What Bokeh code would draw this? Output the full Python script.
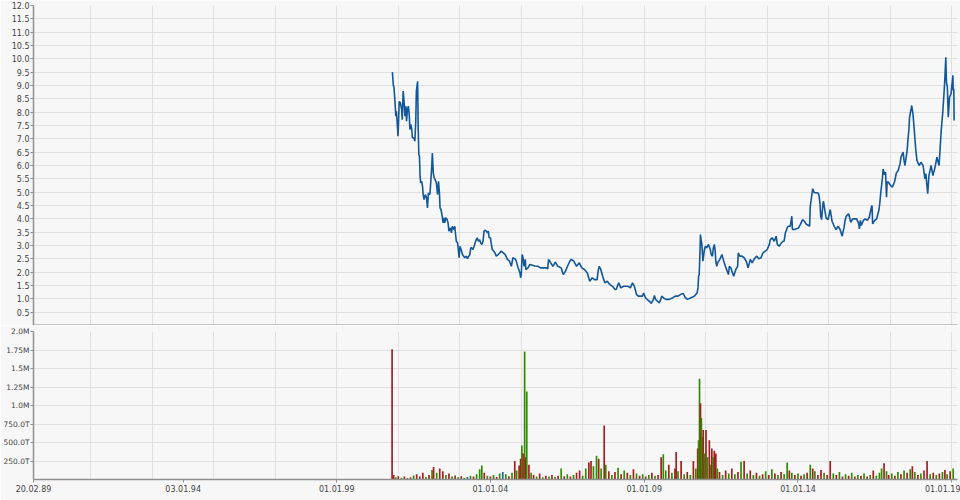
from datetime import datetime
from bokeh.plotting import figure
from bokeh.layouts import column
from bokeh.models import Range1d, FixedTicker, PrintfTickFormatter, Span
from bokeh.embed import file_html
from bokeh.resources import INLINE

# ---------------- data ----------------
price_year = [
    2000.81, 2000.84, 2000.86, 2000.89, 2000.92, 2000.94, 2000.98, 2000.99, 2001.01, 2001.03,
    2001.07, 2001.11, 2001.13, 2001.16, 2001.18, 2001.22, 2001.25, 2001.27, 2001.30, 2001.33,
    2001.36, 2001.38, 2001.41, 2001.44, 2001.46, 2001.51, 2001.54, 2001.57, 2001.59, 2001.63,
    2001.65, 2001.67, 2001.69, 2001.71, 2001.73, 2001.76, 2001.79, 2001.81, 2001.84, 2001.88,
    2001.92, 2001.95, 2001.98, 2002.03, 2002.06, 2002.09, 2002.11, 2002.14, 2002.17, 2002.20,
    2002.24, 2002.28, 2002.31, 2002.34, 2002.36, 2002.39, 2002.43, 2002.46, 2002.48, 2002.51,
    2002.55, 2002.59, 2002.62, 2002.65, 2002.70, 2002.73, 2002.76, 2002.81, 2002.84, 2002.86,
    2002.89, 2002.93, 2002.96, 2002.98, 2003.01, 2003.06, 2003.09, 2003.13, 2003.16, 2003.22,
    2003.25, 2003.28, 2003.33, 2003.36, 2003.39, 2003.43, 2003.47, 2003.50, 2003.54, 2003.57,
    2003.61, 2003.65, 2003.68, 2003.72, 2003.76, 2003.79, 2003.82, 2003.87, 2003.90, 2003.93,
    2003.96, 2004.00, 2004.03, 2004.06, 2004.10, 2004.15, 2004.19, 2004.25, 2004.30,
    2004.35, 2004.48, 2004.55, 2004.62, 2004.68, 2004.73, 2004.82, 2004.90, 2004.96, 2004.98,
    2005.00, 2005.03, 2005.06, 2005.09, 2005.13, 2005.15, 2005.22, 2005.28, 2005.36, 2005.44,
    2005.54, 2005.63, 2005.72, 2005.82, 2005.86, 2005.89, 2005.96, 2006.03, 2006.11, 2006.19,
    2006.30, 2006.37, 2006.44, 2006.52, 2006.58, 2006.63, 2006.71, 2006.80, 2006.89, 2006.97,
    2007.06, 2007.15, 2007.23, 2007.31, 2007.38, 2007.47, 2007.50, 2007.54, 2007.59, 2007.65,
    2007.72, 2007.80, 2007.88, 2007.97, 2008.05,
    2008.09, 2008.17, 2008.24, 2008.33, 2008.39, 2008.48, 2008.55, 2008.62, 2008.68, 2008.75,
    2008.81, 2008.88, 2008.94, 2008.98, 2009.04, 2009.10, 2009.17, 2009.23, 2009.30, 2009.33,
    2009.37, 2009.43, 2009.49, 2009.54, 2009.57, 2009.64, 2009.71, 2009.82, 2009.93, 2010.01,
    2010.10, 2010.19, 2010.27, 2010.34, 2010.41, 2010.52, 2010.63, 2010.72, 2010.75, 2010.77,
    2010.79, 2010.82, 2010.83, 2010.85, 2010.87, 2010.89, 2010.91, 2010.93, 2010.96, 2010.99,
    2011.03, 2011.09, 2011.15, 2011.18, 2011.22, 2011.25, 2011.28, 2011.31, 2011.33, 2011.36,
    2011.39, 2011.46, 2011.53, 2011.57, 2011.64, 2011.70, 2011.74, 2011.77,
    2011.82, 2011.91, 2011.98, 2012.04, 2012.06, 2012.11, 2012.18, 2012.25, 2012.32, 2012.38,
    2012.45, 2012.51, 2012.58, 2012.66, 2012.73, 2012.80, 2012.86, 2012.94, 2013.00, 2013.07,
    2013.10, 2013.16, 2013.23, 2013.29, 2013.33, 2013.39, 2013.46, 2013.52, 2013.55, 2013.59,
    2013.65, 2013.68, 2013.75, 2013.80, 2013.82, 2013.89, 2013.95, 2014.02, 2014.08, 2014.15,
    2014.21, 2014.28, 2014.34, 2014.38, 2014.40, 2014.44, 2014.48, 2014.53, 2014.59, 2014.66,
    2014.69, 2014.72, 2014.74, 2014.77, 2014.81, 2014.83, 2014.88, 2014.92, 2014.98, 2015.05,
    2015.11, 2015.18, 2015.24, 2015.31, 2015.37, 2015.44, 2015.47, 2015.50, 2015.53,
    2015.56, 2015.59, 2015.65, 2015.72, 2015.78, 2015.85, 2015.91, 2015.98, 2016.00, 2016.03,
    2016.06, 2016.13, 2016.19, 2016.26, 2016.32, 2016.39, 2016.41, 2016.43, 2016.50, 2016.56,
    2016.63, 2016.66, 2016.69, 2016.75, 2016.77, 2016.81, 2016.85, 2016.88, 2016.90, 2016.94,
    2017.01, 2017.07, 2017.14, 2017.20, 2017.26, 2017.32, 2017.35, 2017.42, 2017.45, 2017.48,
    2017.55, 2017.58, 2017.61, 2017.63, 2017.68, 2017.70, 2017.74, 2017.78, 2017.83, 2017.87,
    2017.94, 2018.00, 2018.07, 2018.13, 2018.16, 2018.20, 2018.22, 2018.26, 2018.33, 2018.39,
    2018.46, 2018.52, 2018.59, 2018.62, 2018.66, 2018.71, 2018.75, 2018.77, 2018.79, 2018.81,
    2018.82, 2018.83, 2018.86, 2018.88, 2018.89, 2018.91, 2018.93, 2018.98, 2019.00, 2019.02,
    2019.04, 2019.05, 2019.07, 2019.08,
]
price_value = [
    9.50, 9.00, 8.95, 8.47, 7.85, 8.03, 7.35, 7.10, 7.60, 8.40,
    8.35, 8.10, 7.72, 8.79, 8.55, 7.85, 8.22, 7.66, 8.10, 8.22,
    7.85, 7.35, 7.54, 7.35, 7.04, 7.04, 6.91, 7.66, 8.79, 9.16,
    7.35, 6.41, 6.35, 5.60, 5.35, 5.41, 5.22, 4.91, 4.72, 4.91,
    4.79, 4.41, 4.97, 4.91, 5.41, 5.97, 6.47, 5.72, 5.54, 5.47,
    5.35, 4.91, 5.41, 4.97, 4.41, 4.35, 4.10, 3.85, 4.04, 3.85,
    4.04, 3.97, 3.85, 3.54, 3.66, 3.47, 3.72, 3.60, 3.72, 3.47,
    3.16, 3.10, 2.79, 2.54, 2.97, 2.79, 2.66, 2.60, 2.54, 2.60,
    2.50, 2.57, 2.66, 2.91, 2.91, 2.85, 2.97, 3.10, 3.22, 3.29,
    3.16, 3.22, 3.10, 3.04, 3.16, 3.54, 3.57, 3.54, 3.47, 3.54,
    3.29, 3.29, 3.04, 2.85, 2.79, 2.72, 2.60, 2.66, 2.72,
    2.79, 2.66, 2.48, 2.41, 2.22, 2.54, 2.48, 2.16, 1.97, 1.79,
    1.91, 2.66, 2.54, 2.22, 2.48, 2.10, 2.16, 2.29, 2.26, 2.23,
    2.22, 2.16, 2.16, 2.16, 2.12, 2.48, 2.35, 2.22, 2.38, 2.22,
    2.16, 1.91, 2.04, 2.26, 2.41, 2.48, 2.41, 2.22, 2.35, 2.16,
    2.10, 1.97, 1.66, 1.79, 1.72, 1.72, 2.04, 2.22, 2.10, 1.85,
    1.60, 1.66, 1.54, 1.47, 1.35,
    1.35, 1.60, 1.41, 1.47, 1.47, 1.47, 1.41, 1.60, 1.47, 1.16,
    1.10, 1.10, 1.10, 1.22, 1.04, 0.97, 0.91, 0.83, 0.98, 1.13,
    0.98, 0.91, 0.85, 0.98, 1.10, 1.02, 0.98, 0.98, 1.04, 1.10,
    1.10, 1.17, 1.20, 1.04, 0.98, 1.04, 1.10, 1.22, 1.41, 1.85,
    1.91, 2.97, 3.41, 3.22, 3.10, 2.79, 2.41, 2.60, 2.85, 2.97,
    2.91, 3.04, 2.85, 2.66, 2.60, 2.91, 3.04, 2.79, 2.41, 2.22,
    2.35, 2.48, 2.66, 2.48, 2.22, 2.04, 1.91, 2.22,
    2.16, 1.85, 2.10, 2.22, 2.72, 2.60, 2.60, 2.54, 2.41, 2.16,
    2.48, 2.35, 2.50, 2.60, 2.50, 2.54, 2.72, 2.79, 2.85, 3.04,
    3.22, 3.29, 3.16, 3.35, 3.04, 2.97, 3.10, 3.16, 3.16, 3.47,
    3.66, 3.72, 3.72, 4.10, 3.60, 3.60, 3.63, 3.66, 3.79, 3.97,
    3.91, 3.79, 3.76, 3.72, 4.47, 4.79, 5.13, 4.98, 4.98, 4.97,
    4.85, 4.53, 4.10, 3.97, 4.53, 4.66, 4.28, 4.03, 3.97, 4.35,
    3.91, 3.72, 3.60, 3.72, 3.60, 3.35, 3.54, 3.66, 3.91,
    4.06, 4.12, 4.19, 3.87, 4.00, 4.00, 4.00, 3.81, 3.62, 3.94,
    3.75, 3.94, 4.00, 3.94, 4.06, 4.44, 4.50, 3.81, 3.94, 4.00,
    4.31, 4.56, 4.94, 5.56, 5.87, 5.66, 5.75, 4.81, 5.38, 5.38,
    5.25, 5.19, 5.38, 5.72, 5.81, 6.06, 6.31, 6.50, 6.19, 6.00,
    6.56, 7.00, 7.38, 7.81, 8.12, 8.25, 7.94, 7.38, 6.62, 6.19,
    6.00, 6.12, 6.00, 5.50, 5.69, 5.19, 4.94, 5.62, 6.00, 5.62,
    5.94, 6.31, 6.00, 6.56, 7.31, 7.99, 8.69, 9.06, 9.56, 10.06,
    9.56, 9.13, 8.94, 8.19, 7.81, 8.19, 8.56, 8.69, 8.94, 9.13,
    9.38, 8.81, 8.88, 7.69,
]

vol_year = [
    2000.80, 2000.85, 2000.92, 2001.00, 2001.10, 2001.20, 2001.30, 2001.40, 2001.50, 2001.60,
    2001.70, 2001.80, 2001.90, 2002.00, 2002.10, 2002.15, 2002.25, 2002.35, 2002.45, 2002.55,
    2002.65, 2002.75, 2002.85, 2002.95, 2003.05, 2003.15, 2003.25, 2003.35, 2003.45, 2003.55,
    2003.65, 2003.72, 2003.80, 2003.90, 2004.00, 2004.10, 2004.20, 2004.30, 2004.40, 2004.50,
    2004.60, 2004.70, 2004.79, 2004.85, 2004.93, 2004.98, 2005.02, 2005.06, 2005.11, 2005.14,
    2005.18, 2005.25, 2005.32, 2005.40, 2005.50, 2005.60, 2005.70, 2005.80, 2005.90, 2006.00,
    2006.10, 2006.20, 2006.30, 2006.40, 2006.50, 2006.60, 2006.70, 2006.80, 2006.90, 2007.00,
    2007.10, 2007.20, 2007.27, 2007.35, 2007.45, 2007.52, 2007.60, 2007.70, 2007.75, 2007.85,
    2007.95, 2008.05, 2008.15, 2008.25, 2008.35, 2008.45, 2008.55, 2008.65, 2008.75, 2008.85,
    2008.95, 2009.05, 2009.15, 2009.25, 2009.35, 2009.45, 2009.55, 2009.62, 2009.70, 2009.80,
    2009.90, 2010.00, 2010.04, 2010.10, 2010.20, 2010.30, 2010.40, 2010.50, 2010.60, 2010.68,
    2010.74, 2010.77, 2010.80, 2010.83, 2010.86, 2010.89, 2010.92, 2010.96, 2011.01, 2011.06,
    2011.12, 2011.17, 2011.20, 2011.24, 2011.28, 2011.33, 2011.38, 2011.45, 2011.55, 2011.65,
    2011.75, 2011.85, 2011.95, 2012.05, 2012.15, 2012.25, 2012.35, 2012.45, 2012.55, 2012.65,
    2012.75, 2012.85, 2012.95, 2013.05, 2013.15, 2013.25, 2013.35, 2013.45, 2013.55, 2013.65,
    2013.72, 2013.80, 2013.90, 2014.00, 2014.10, 2014.20, 2014.30, 2014.40, 2014.48, 2014.55,
    2014.65, 2014.75, 2014.85, 2014.95, 2015.05, 2015.15, 2015.25, 2015.35, 2015.45, 2015.55,
    2015.65, 2015.75, 2015.85, 2015.95, 2016.05, 2016.15, 2016.25, 2016.35, 2016.45, 2016.55,
    2016.65, 2016.72, 2016.80, 2016.88, 2016.95, 2017.05, 2017.15, 2017.25, 2017.35, 2017.45,
    2017.55, 2017.65, 2017.72, 2017.80, 2017.90, 2018.00, 2018.10, 2018.20, 2018.30, 2018.40,
    2018.50, 2018.60, 2018.70, 2018.78, 2018.85, 2018.95, 2019.05,
]
vol_k = [
    1760, 60, 30, 45, 25, 40, 20, 30, 55, 70,
    40, 90, 35, 60, 130, 170, 90, 150, 110, 60,
    80, 40, 55, 30, 45, 25, 35, 50, 40, 70,
    140, 190, 90, 50, 40, 60, 35, 80, 100, 70,
    45, 90, 250, 120, 190, 280, 460, 350, 1730, 300,
    1190, 200, 90, 60, 40, 80, 30, 50, 40, 60,
    35, 50, 150, 45, 70, 40, 60, 90, 120, 50,
    150, 230, 250, 180, 320, 280, 150, 730, 200, 110,
    60, 100, 160, 70, 120, 90, 60, 140, 80, 50,
    70, 40, 60, 90, 50, 60, 300, 340, 120, 200,
    90, 150, 370, 110, 250, 70, 100, 60, 250, 150,
    420, 530, 1360, 1030, 830, 570, 670, 350, 670, 300,
    530, 200, 420, 300, 390, 350, 150, 100, 60, 120,
    80, 150, 70, 100, 240, 250, 80, 120, 60, 90,
    50, 70, 110, 60, 140, 80, 60, 100, 70, 230,
    120, 90, 60, 80, 50, 70, 90, 200, 150, 110,
    60, 130, 90, 60, 250, 80, 60, 100, 40, 70,
    50, 90, 40, 60, 50, 80, 40, 60, 120, 50,
    90, 150, 220, 110, 60, 80, 50, 100, 70, 120,
    90, 140, 180, 100, 60, 80, 120, 250, 70, 90,
    60, 80, 100, 130, 70, 110, 150,
]
vol_dir = [
    "r", "r", "g", "r", "g", "r", "g", "r", "g", "r",
    "r", "r", "g", "r", "g", "r", "g", "r", "r", "g",
    "r", "g", "r", "g", "r", "g", "b", "g", "r", "g",
    "g", "g", "r", "g", "r", "g", "r", "g", "b", "g",
    "r", "g", "r", "g", "r", "r", "g", "r", "g", "r",
    "g", "r", "g", "r", "g", "r", "g", "r", "g", "r",
    "g", "r", "g", "r", "g", "r", "g", "r", "r", "g",
    "g", "r", "r", "g", "g", "r", "g", "r", "g", "r",
    "g", "r", "g", "r", "g", "r", "g", "r", "g", "r",
    "g", "r", "g", "r", "g", "r", "r", "g", "g", "r",
    "g", "r", "r", "g", "r", "g", "r", "g", "r", "g",
    "r", "g", "g", "r", "g", "g", "r", "g", "r", "g",
    "r", "g", "r", "g", "r", "r", "g", "r", "g", "r",
    "g", "r", "g", "r", "g", "r", "g", "r", "g", "r",
    "g", "r", "g", "r", "g", "r", "g", "r", "g", "g",
    "r", "g", "r", "g", "r", "g", "r", "g", "r", "g",
    "r", "r", "g", "r", "r", "g", "r", "g", "r", "g",
    "r", "g", "r", "g", "r", "g", "r", "g", "r", "g",
    "g", "g", "r", "g", "r", "g", "r", "g", "r", "g",
    "r", "g", "r", "g", "r", "g", "r", "r", "g", "r",
    "g", "r", "g", "r", "g", "r", "g",
]

x_tick_dates = ["1989-02-20", "1994-01-03", "1999-01-01", "2004-01-01", "2009-01-01", "2014-01-01", "2019-01-01"]
x_tick_labels = ["20.02.89", "03.01.94", "01.01.99", "01.01.04", "01.01.09", "01.01.14", "01.01.19"]
x_grid_years = [1991, 1993, 1995, 1997, 1999, 2001, 2003, 2005, 2007, 2009, 2011, 2013, 2015, 2017, 2019]
price_ticks = [0.5, 1.0, 1.5, 2.0, 2.5, 3.0, 3.5, 4.0, 4.5, 5.0, 5.5, 6.0, 6.5, 7.0, 7.5, 8.0,
               8.5, 9.0, 9.5, 10.0, 10.5, 11.0, 11.5, 12.0]
vol_ticks = [250000, 500000, 750000, 1000000, 1250000, 1500000, 1750000, 2000000]
vol_tick_labels = ["250.0T", "500.0T", "750.0T", "1.0M", "1.25M", "1.5M", "1.75M", "2.0M"]
x_start, x_end = "1989-02-20", 2019.19

# ---------------- helpers ----------------
EPOCH = datetime(1970, 1, 1)


def dec_to_dt(y):
    yr = int(y)
    a = datetime(yr, 1, 1)
    b = datetime(yr + 1, 1, 1)
    return a + (b - a) * (y - yr)


def ms(dt):
    return (dt - EPOCH).total_seconds() * 1000.0


px = [dec_to_dt(v) for v in price_year]
vx = [dec_to_dt(v) for v in vol_year]
vol = [k * 1000 for k in vol_k]
colmap = {"g": "#2f8c00", "r": "#a31f1f", "b": "#1d5ea8"}
vcol = [colmap[c] for c in vol_dir]

BG = "#f7f7f7"
GRID = "#e0e0e0"
AXC = "#8f8f8f"
TXT = "#444444"
FONT = "DejaVu Sans"
FS = "8px"

W = 960
LB = 32
RB = 3

xr = Range1d(ms(datetime.strptime(x_start, "%Y-%m-%d")), ms(dec_to_dt(x_end)))
x_grid_ms = [ms(datetime(y, 1, 1)) for y in x_grid_years]
x_tick_ms = [ms(datetime.strptime(d, "%Y-%m-%d")) for d in x_tick_dates]


def style(p, fs):
    p.background_fill_color = BG
    p.border_fill_color = BG
    p.outline_line_color = None
    p.xgrid.ticker = FixedTicker(ticks=x_grid_ms)
    p.xgrid.grid_line_color = GRID
    p.ygrid.grid_line_color = GRID
    for ax in p.yaxis:
        ax.axis_line_color = AXC
        ax.axis_line_width = 1.5
        ax.major_tick_line_color = AXC
        ax.major_tick_out = 3
        ax.major_tick_in = 0
        ax.minor_tick_line_color = None
        ax.major_label_text_font = FONT
        ax.major_label_text_font_size = fs
        ax.major_label_text_color = TXT
        ax.major_label_standoff = 1


# ---------------- price panel ----------------
p1 = figure(width=W, height=325, x_axis_type="datetime", x_range=xr, y_range=Range1d(0, 12),
            output_backend="svg", toolbar_location=None,
            min_border_left=LB, min_border_right=RB, min_border_top=5, min_border_bottom=0)
p1.xaxis.visible = False
style(p1, FS)
p1.yaxis.ticker = FixedTicker(ticks=price_ticks)
p1.yaxis.formatter = PrintfTickFormatter(format="%.1f")
p1.ygrid.ticker = FixedTicker(ticks=price_ticks)
p1.line(px, price_value, line_color="#12579a", line_width=1.6)
p1.add_layout(Span(location=0, dimension="width", line_color=AXC, line_width=2))

# ---------------- volume panel ----------------
p2 = figure(width=W, height=175, x_axis_type="datetime", x_range=xr, y_range=Range1d(0, 2000000),
            output_backend="svg", toolbar_location=None,
            min_border_left=LB, min_border_right=RB, min_border_top=6, min_border_bottom=21)
style(p2, "7.5px")
p2.yaxis.ticker = FixedTicker(ticks=vol_ticks)
p2.yaxis.major_label_overrides = dict(zip(vol_ticks, vol_tick_labels))
p2.ygrid.ticker = FixedTicker(ticks=vol_ticks)
bar_w = 0.055 * 365.25 * 86400000
p2.vbar(x=vx, top=vol, width=bar_w, bottom=0, fill_color=vcol, line_color=None)

xa = p2.xaxis[0]
xa.ticker = FixedTicker(ticks=x_tick_ms)
xa.major_label_overrides = dict(zip(x_tick_ms, x_tick_labels))
xa.axis_line_color = AXC
xa.axis_line_width = 1.5
xa.major_tick_line_color = AXC
xa.major_tick_out = 3
xa.major_tick_in = 0
xa.minor_tick_line_color = None
xa.major_label_text_font = FONT
xa.major_label_text_font_size = FS
xa.major_label_text_color = TXT
xa.major_label_standoff = 2

layout = column(p1, p2, spacing=0)
open("out.html", "w").write(file_html(layout, INLINE))
